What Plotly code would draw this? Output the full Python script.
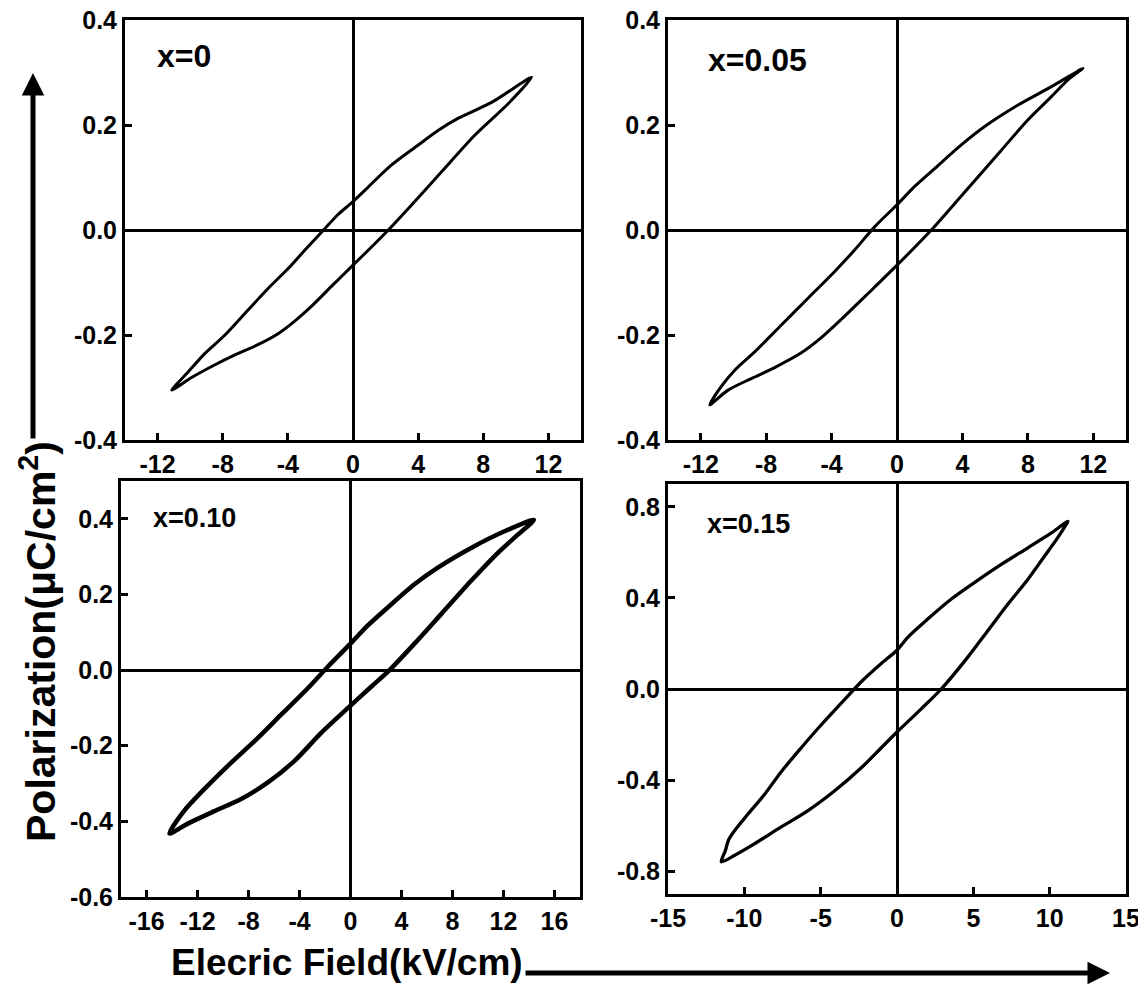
import plotly.graph_objects as go

W, H = 1146, 989
OFF = 8  # the page body has an 8px margin; shift everything to compensate

# ---------------- data ----------------
# x = 0   (upper branch from +Emax down to -Emax, then lower branch back up)
E_x0 = [10.97, 8.51, 6.47, 5.24, 4.01, 2.37, 0.74, 0.0, -0.90, -1.72, -2.95, -3.97, -5.20, -6.43, -7.86, -9.09, -10.11, -11.13,
        -9.91, -8.68, -7.25, -5.81, -4.58, -3.56, -2.54, -1.31, 0.0, 1.15, 2.17, 3.40, 5.44, 7.49, 9.54, 10.97]
P_x0 = [0.291, 0.243, 0.213, 0.190, 0.162, 0.124, 0.076, 0.054, 0.030, 0.003, -0.038, -0.073, -0.111, -0.152, -0.200, -0.235, -0.270, -0.305,
        -0.281, -0.260, -0.238, -0.218, -0.197, -0.173, -0.145, -0.107, -0.067, -0.032, 0.0, 0.041, 0.111, 0.181, 0.241, 0.291]

# x = 0.05
E_x005 = [11.37, 9.44, 7.40, 5.36, 3.93, 2.30, 1.08, 0.0, -1.37, -2.59, -3.81, -5.44, -7.07, -8.70, -9.92, -10.74, -11.45,
          -10.33, -8.91, -7.48, -5.85, -4.63, -3.40, -1.77, 0.0, 2.10, 3.32, 4.75, 6.38, 8.01, 9.44, 10.45, 11.37]
P_x005 = [0.308, 0.273, 0.238, 0.197, 0.162, 0.117, 0.083, 0.048, 0.006, -0.038, -0.079, -0.130, -0.181, -0.232, -0.267, -0.298, -0.333,
          -0.305, -0.283, -0.262, -0.234, -0.205, -0.170, -0.121, -0.067, 0.0, 0.043, 0.094, 0.152, 0.210, 0.254, 0.286, 0.308]

# x = 0.10
E_x010 = [14.38, 12.08, 9.46, 6.85, 5.02, 2.93, 1.36, 0.0, -1.78, -3.35, -5.44, -7.53, -9.62, -11.45, -13.02, -14.20,
          -12.76, -10.67, -8.58, -6.48, -4.39, -2.30, 0.0, 1.62, 3.06, 5.02, 7.11, 9.46, 11.56, 13.12, 14.38]
P_x010 = [0.397, 0.367, 0.323, 0.271, 0.227, 0.166, 0.118, 0.070, 0.009, -0.048, -0.118, -0.188, -0.253, -0.314, -0.371, -0.432,
          -0.406, -0.373, -0.341, -0.297, -0.240, -0.166, -0.094, -0.044, 0.0, 0.070, 0.148, 0.236, 0.310, 0.358, 0.397]

# x = 0.15
E_x015 = [11.20, 10.11, 8.58, 6.83, 5.09, 3.56, 2.03, 0.72, 0.0, -1.03, -2.34, -3.65, -4.96, -6.27, -7.58, -8.67, -9.76, -10.63,
          -11.03, -11.24, -11.51,
          -10.63, -9.32, -7.79, -5.83, -4.08, -2.34, -1.03, 0.0, 1.59, 2.90, 4.65, 5.96, 7.27, 8.58, 9.67, 10.44, 10.87, 11.20]
P_x015 = [0.736, 0.685, 0.620, 0.547, 0.468, 0.395, 0.308, 0.228, 0.170, 0.112, 0.032, -0.062, -0.157, -0.258, -0.363, -0.462, -0.549, -0.621,
          -0.662, -0.709, -0.759,
          -0.730, -0.679, -0.614, -0.534, -0.447, -0.346, -0.258, -0.189, -0.087, 0.0, 0.141, 0.257, 0.373, 0.482, 0.584, 0.656, 0.700, 0.736]

panel_labels = ["x=0", "x=0.05", "x=0.10", "x=0.15"]

xticks_a = [-12, -8, -4, 0, 4, 8, 12]
xticks_c = [-16, -12, -8, -4, 0, 4, 8, 12, 16]
xticks_d = [-15, -10, -5, 0, 5, 10, 15]
yticks_a = [-0.4, -0.2, 0.0, 0.2, 0.4]
yticks_c = [-0.6, -0.4, -0.2, 0.0, 0.2, 0.4]
yticks_d = [-0.8, -0.4, 0.0, 0.4, 0.8]

x_title = "Elecric Field(kV/cm)"
y_title = "Polarization(μC/cm<sup>2</sup>)"

# ---------------- layout helpers ----------------
FONT = "Liberation Sans, Arial, sans-serif"


def fx(p):
    return (p - OFF) / W


def fy(p):
    return 1 - (p - OFF) / H


panels = [
    dict(E=E_x0, P=P_x0, dx=[fx(125), fx(581)], dy=[fy(440), fy(20)], xr=[-14, 14], yr=[-0.4, 0.4],
         xt=xticks_a, yt=yticks_a, lw=3.0),
    dict(E=E_x005, P=P_x005, dx=[fx(668), fx(1126)], dy=[fy(440), fy(20)], xr=[-14, 14], yr=[-0.4, 0.4],
         xt=xticks_a, yt=yticks_a, lw=3.0),
    dict(E=E_x010, P=P_x010, dx=[fx(121), fx(580)], dy=[fy(897), fy(481)], xr=[-18, 18], yr=[-0.6, 0.5],
         xt=xticks_c, yt=yticks_c, lw=4.5),
    dict(E=E_x015, P=P_x015, dx=[fx(668), fx(1126)], dy=[fy(894), fy(484)], xr=[-15, 15], yr=[-0.9, 0.9],
         xt=xticks_d, yt=yticks_d, lw=3.3),
]

fig = go.Figure()
layout = dict(width=W, height=H, margin=dict(l=0, r=0, t=0, b=0, autoexpand=False),
              paper_bgcolor="white", plot_bgcolor="white", showlegend=False,
              font=dict(family=FONT, color="black"))

for i, p in enumerate(panels):
    n = "" if i == 0 else str(i + 1)
    fig.add_trace(go.Scatter(x=p["E"], y=p["P"], mode="lines",
                             line=dict(color="black", width=p["lw"], shape="spline", smoothing=0.8),
                             xaxis="x" + n, yaxis="y" + n, hoverinfo="skip"))
    common = dict(showgrid=False, showline=True, linecolor="black", linewidth=3, mirror=True,
                  ticks="inside", ticklen=7, tickwidth=2.5, tickcolor="black", automargin=False,
                  ticklabeloverflow="allow",
                  zeroline=True, zerolinecolor="black", zerolinewidth=2.5,
                  tickfont=dict(family=FONT, size=25, color="black", weight="bold"))
    layout["xaxis" + n] = dict(common, domain=p["dx"], range=p["xr"], anchor="y" + n,
                               tickmode="array", tickvals=p["xt"],
                               ticktext=[str(v) for v in p["xt"]])
    layout["yaxis" + n] = dict(common, domain=p["dy"], range=p["yr"], anchor="x" + n,
                               tickmode="array", tickvals=p["yt"],
                               ticktext=[f"{v:.1f}" for v in p["yt"]])

fig.update_layout(**layout)

ann = []
lab_pos = [(155, 56, 32), (706, 60, 32), (151, 518, 27), (705, 524, 27)]
for t, (x, y, s) in zip(panel_labels, lab_pos):
    ann.append(dict(text=t, x=fx(x), y=fy(y), xref="paper", yref="paper", xanchor="left", yanchor="middle",
                    showarrow=False, font=dict(family=FONT, size=s, color="black", weight="bold")))

ann.append(dict(text=x_title, x=fx(347), y=fy(962), xref="paper", yref="paper", xanchor="center",
                yanchor="middle", showarrow=False, font=dict(family=FONT, size=37, color="black", weight="bold")))
ann.append(dict(text=y_title, x=fx(38), y=fy(642), xref="paper", yref="paper", xanchor="center",
                yanchor="middle", textangle=-90, showarrow=False,
                font=dict(family=FONT, size=41, color="black", weight="bold")))
# arrows
ann.append(dict(text="", x=fx(33), y=fy(73), xref="paper", yref="paper", showarrow=True,
                ax=0, ay=367, axref="pixel", ayref="pixel", arrowhead=2, arrowsize=0.9, arrowwidth=5,
                arrowcolor="black", standoff=0))
ann.append(dict(text="", x=fx(1110), y=fy(973), xref="paper", yref="paper", showarrow=True,
                ax=-586, ay=0, axref="pixel", ayref="pixel", arrowhead=2, arrowsize=0.9, arrowwidth=5,
                arrowcolor="black", standoff=0))
fig.update_layout(annotations=ann)

fig.write_html("out.html")
